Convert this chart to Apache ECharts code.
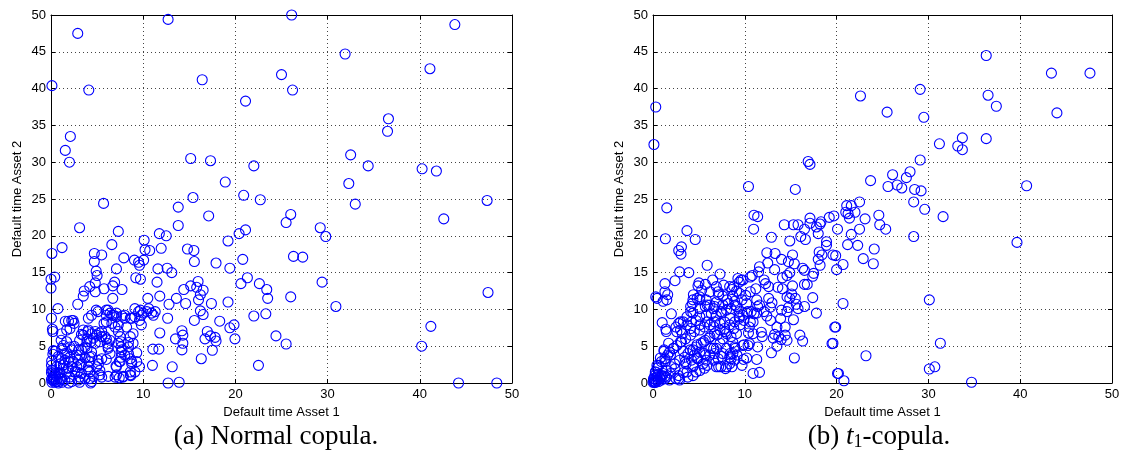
<!DOCTYPE html>
<html>
<head>
<meta charset="utf-8">
<script src="https://cdn.jsdelivr.net/npm/echarts@6/dist/echarts.min.js"></script>
<style>
  html, body { margin: 0; padding: 0; background: #fff; }
  #chart { width: 1131px; height: 473px; }
</style>
</head>
<body>
<div id="chart"></div>
<script>
// Simulated default times (years) of two assets under two copulas.
const axisMin = 0;
const axisMax = 50;
const xTickStep = 10;
const yTickStep = 5;
const xAxisTitle = 'Default time Asset 1';
const yAxisTitle = 'Default time Asset 2';

// (a) Normal copula: [asset 1 default time, asset 2 default time]
const normalCopula = [
  [0.1,40.4],[2.9,47.5],[4.1,39.8],[2.1,33.5],[1.55,31.6],[2.0,30.0],[12.7,49.4],[16.4,41.2],
  [15.15,30.5],[17.3,30.2],[18.9,27.3],[15.4,25.2],[21.1,38.3],[20.9,25.5],[22.0,29.5],[22.7,24.9],
  [26.1,50.0],[25.0,41.9],[26.2,39.8],[31.9,44.7],[32.5,31.0],[32.3,27.1],[34.4,29.5],[36.6,35.9],
  [36.5,34.2],[41.1,42.7],[43.8,48.7],[40.25,29.1],[41.8,28.8],[47.3,24.8],[33.0,24.3],
  [5.7,24.4],[13.8,23.9],[17.1,22.7],[13.8,21.4],[26.0,22.9],[25.5,21.8],[42.6,22.3],[3.1,21.1],
  [7.3,20.6],[11.75,20.3],[12.5,20.0],[20.4,20.3],[21.1,20.8],[29.2,21.1],[29.8,19.9],[19.2,19.3],
  [10.1,19.4],[0.1,17.6],[1.2,18.4],[4.7,17.6],[5.5,17.4],[7.9,17.0],[10.2,18.1],[10.7,18.0],
  [11.95,18.3],[14.8,18.2],[15.5,18.0],[15.55,16.5],[9.05,16.7],[9.5,16.4],[10.05,16.7],[4.7,16.5],
  [9.6,16.0],[17.9,16.3],[20.8,16.8],[26.3,17.2],[27.3,17.1],[19.4,15.6],[7.1,15.5],[11.6,15.5],
  [12.6,15.6],[13.1,15.0],[4.9,15.2],[5.0,14.6],[0.0,14.1],[0.4,14.4],[0.0,12.9],[9.2,14.3],
  [9.7,14.1],[11.5,13.7],[6.9,13.7],[6.7,13.2],[4.2,13.1],[4.8,13.6],[3.6,12.5],[3.5,11.8],
  [4.8,12.4],[5.75,12.8],[7.7,12.7],[6.7,11.5],[2.9,10.7],[4.9,9.9],[0.75,10.1],[15.95,13.8],
  [15.15,13.2],[15.8,13.0],[16.5,12.6],[14.4,12.7],[16.2,12.0],[16.0,11.3],[13.6,11.5],[11.8,11.8],
  [10.5,11.5],[12.8,10.7],[14.6,10.8],[17.4,10.8],[19.2,11.0],[20.6,13.5],[21.3,14.3],[22.6,13.5],
  [23.4,12.7],[23.5,11.5],[26.0,11.7],[29.4,13.7],[30.9,10.4],[47.4,12.3],[22.0,9.1],[23.3,9.4],
  [16.2,9.8],[16.5,9.3],[15.55,8.5],[18.3,8.4],[12.65,8.8],[19.4,7.5],[19.85,7.9],[41.2,7.7],
  [16.95,7.0],[17.3,6.4],[17.8,6.2],[16.7,6.0],[17.9,5.7],[14.2,7.1],[14.3,6.5],[13.5,6.0],
  [14.3,5.4],[14.2,4.5],[19.95,6.0],[24.4,6.4],[25.5,5.3],[40.2,5.0],[17.5,4.45],[16.3,3.3],
  [11.05,4.6],[11.7,4.6],[11.8,6.8],[11.0,2.4],[13.15,2.2],[22.5,2.4],[12.7,0.0],[13.9,0.1],
  [44.2,0.0],[48.35,0.0],[6.6,18.8],
  [9.1,10.1],[9.5,9.7],[9.8,9.2],[10.0,9.5],[10.4,9.7],[10.6,10.1],[10.9,9.5],[11.1,9.2],
  [11.3,9.7],[9.6,8.5],[9.8,7.9],[8.75,8.8],[8.0,8.8],[7.7,9.1],[7.1,9.5],[6.8,9.2],
  [6.4,9.5],[6.2,9.9],[6.0,9.2],[6.0,8.3],[5.75,8.1],[6.6,8.1],[6.95,7.6],[7.3,7.9],
  [7.3,7.0],[7.5,6.3],[7.6,5.6],[7.6,4.9],[7.6,4.2],[7.6,3.5],[7.4,2.9],[7.05,2.3],
  [6.95,0.8],[7.4,0.7],[7.8,0.8],[8.4,5.5],[8.4,4.9],[8.4,4.0],[8.6,3.3],[8.75,2.6],
  [8.6,1.5],[8.65,1.0],[9.3,4.1],[9.3,2.9],[9.6,2.2],[8.9,5.4],[8.6,6.3],[8.9,6.7],
  [8.2,7.6],[5.5,6.3],[5.25,6.8],[4.95,6.5],[4.4,6.7],[4.0,7.0],[3.5,7.2],[3.3,6.6],
  [3.9,6.0],[4.3,5.6],[4.8,5.4],[5.3,5.6],[6.0,6.0],[6.1,5.4],[6.2,4.7],[6.4,4.0],
  [6.0,3.2],[5.5,3.3],[5.15,2.6],[5.3,1.7],[5.5,0.8],[4.4,4.2],[4.2,3.5],[4.15,2.9],
  [4.05,2.2],[4.2,1.5],[4.2,0.6],[4.3,0.0],[3.7,4.9],[3.3,4.5],[3.1,3.8],[2.95,3.1],
  [3.3,2.6],[2.8,2.2],[2.85,1.5],[3.1,0.8],[3.1,0.1],[2.5,5.0],[2.25,4.5],[2.05,3.5],
  [1.9,2.9],[2.25,2.2],[1.7,1.5],[2.05,0.8],[1.9,0.0],[1.5,4.0],[1.15,3.3],[1.0,2.6],
  [1.35,2.0],[0.9,1.3],[1.15,0.6],[0.8,0.0],[0.25,0.8],[0.2,0.4],[0.4,0.1],[0.05,1.4],
  [0.2,1.7],[0.05,2.4],[0.2,3.9],[0.25,4.4],[0.15,7.3],[0.2,7.0],[0.05,8.8],[1.7,5.6],
  [1.35,5.1],[1.1,5.8],[1.7,7.2],[1.55,8.4],[2.25,8.5],[2.5,8.1],[1.15,6.7],
  [1.9,8.4],[2.4,8.5],[2.06,7.4],[4.05,8.8],[4.4,9.2],[5.1,9.7],[6.0,9.9],[6.6,9.2],
  [7.1,9.0],[8.0,9.2],[8.6,8.8],[9.1,9.0],[9.7,9.9],[4.05,7.2],[4.8,7.0],[5.5,7.0],
  [3.5,6.5],[3.1,5.8],[3.9,5.6],[4.6,6.1],[5.85,6.3],[6.4,5.8],[6.2,4.9],[7.3,5.4],
  [7.7,4.5],[8.0,3.8],[7.5,2.9],[7.1,2.2],[8.75,2.9],[9.1,1.5],[8.6,1.1],[7.85,0.9],
  [7.1,1.1],[6.2,0.9],[5.3,1.1],[4.6,0.9],[4.4,0.2],[3.7,0.6],[2.97,0.4],[2.24,0.2],
  [1.5,0.4],[0.8,0.2],[0.25,0.6],[0.43,1.3],[0.07,1.75],[0.98,1.5],[0.6,2.2],[1.34,2.45],
  [1.88,2.0],[2.6,1.5],[3.3,1.3],[4.05,1.75],[4.95,2.2],[3.15,2.45],[2.42,2.9],[1.52,3.1],
  [0.8,3.6],[1.7,4.0],[2.8,3.8],[3.7,3.4],[4.4,3.6],[5.1,3.1],[3.0,4.5],[3.9,4.7],
  [2.06,4.9],[1.16,4.7],[0.43,4.3],[0.07,3.0],
  [0.1,0.1],[0.3,0.3],[0.2,0.8],[0.6,0.2],[0.5,1.0],[1.0,0.5],[0.05,0.5],[0.8,1.2],
  [0.3,1.5],[1.2,0.1]
];

// (b) t1-copula: [asset 1 default time, asset 2 default time]
const tCopula = [
  [0.3,37.5],[0.1,32.4],[10.4,26.7],[15.5,26.3],[16.9,30.1],[17.1,29.7],[22.6,39.0],[25.5,36.8],
  [29.1,39.9],[29.5,36.1],[29.1,30.3],[23.7,27.5],[26.1,28.3],[25.6,26.7],[26.6,26.9],[27.1,26.5],
  [27.6,27.9],[28.0,28.7],[28.5,26.3],[29.2,26.1],[31.2,32.5],[33.2,32.2],[33.7,33.3],[33.7,31.7],
  [36.3,44.5],[36.5,39.1],[37.4,37.6],[36.3,33.2],[43.4,42.1],[47.6,42.1],[44.0,36.7],[40.7,26.8],
  [22.5,24.6],[28.4,24.6],[29.6,23.6],[31.6,22.6],[39.65,19.1],[28.4,19.9],[30.1,11.3],[31.3,5.4],
  [30.1,1.9],[30.7,2.2],[34.7,0.1],[23.2,3.7],[20.1,1.3],[20.8,0.3],[20.7,10.8],[19.9,7.6],
  [19.6,5.4],[15.4,3.4],[16.0,6.5],[16.3,5.7],[10.9,1.3],[11.6,1.45],[11.3,3.2],[12.9,4.1],
  [10.2,3.4],[9.8,5.1],[10.35,5.1],[10.4,6.8],[1.5,23.8],[1.35,19.6],[4.6,19.5],[3.7,20.7],
  [2.8,18.0],[3.1,18.5],[3.05,17.5],[2.4,13.9],[3.9,15.0],[5.9,16.0],[1.3,13.5],[1.6,12.0],
  [0.3,11.7],[1.1,11.1],[2.0,9.4],[1.0,8.2],[1.4,7.3],[1.45,7.0],[1.2,4.5],
  [21.1,24.1],[21.6,24.1],[21.0,23.2],[21.25,23.0],[21.4,22.4],[22.0,23.2],[23.1,22.3],[24.6,22.8],
  [24.7,21.5],[25.35,20.9],[22.5,20.9],[21.6,20.2],[21.2,18.8],[22.3,18.7],[24.1,18.2],[22.9,16.9],
  [24.0,16.2],[20.1,20.9],[19.7,22.7],[19.2,22.5],[20.0,15.4],[20.7,16.1],[19.6,17.4],[19.9,17.3],
  [11.0,22.8],[12.9,19.8],[14.3,21.5],[15.3,21.5],[15.8,21.5],[16.5,20.9],[17.1,22.4],[17.1,21.7],
  [17.8,21.2],[18.3,21.9],[18.2,21.6],[18.0,20.3],[16.1,19.9],[16.6,19.5],[14.9,19.3],[11.4,22.6],
  [10.96,20.9],[18.9,18.7],[18.9,19.2],[18.1,17.8],[18.0,16.8],[18.4,17.4],[18.2,16.0],[12.4,17.7],
  [13.3,17.6],[12.5,16.3],[14.0,16.8],[15.2,17.4],[14.75,16.5],[15.4,16.2],[11.6,15.8],[11.5,15.1],
  [13.25,15.4],[14.1,14.3],[14.6,14.6],[14.9,15.0],[16.3,15.6],[16.5,15.3],[16.5,13.4],[16.8,13.4],
  [17.4,14.5],[17.5,14.9],[17.4,11.6],[17.8,9.5],[10.6,14.4],[10.8,14.6],[9.6,14.0],[12.1,14.0],
  [12.25,13.5],[12.6,13.1],[11.2,12.8],[10.6,12.4],[10.1,11.9],[13.6,13.0],[14.1,12.8],[15.2,13.2],
  [15.1,12.1],[14.9,11.5],[14.6,11.7],[15.5,11.5],[15.6,10.7],[15.8,10.1],[16.5,10.4],[14.75,10.25],
  [12.6,11.5],[12.96,10.9],[12.8,10.3],[12.1,9.7],[12.4,9.1],[12.8,8.5],[11.4,10.4],[11.0,9.4],
  [10.3,9.7],[9.4,9.0],[9.9,8.5],[14.0,9.9],[13.9,8.75],[14.4,7.6],[13.5,7.6],[14.6,9.7],
  [15.3,8.6],[13.25,6.6],[13.1,6.1],[11.8,6.9],[11.9,6.3],[10.6,8.3],[10.9,6.7],[10.5,5.35],
  [11.4,4.9],[14.6,5.8],[14.4,6.5],[13.7,6.3],[13.96,5.9],[13.5,5.0],[9.86,3.2],[19.5,5.35],
  [19.8,7.6],[20.2,1.3],
  [2.9,15.1],[4.1,10.4],[4.3,10.8],[4.35,11.3],[4.8,11.5],[5.1,11.7],[4.9,13.2],[5.0,13.6],
  [5.3,12.6],[5.7,13.4],[5.8,11.3],[6.5,14.0],[6.9,13.1],[7.1,12.4],[7.3,14.8],[7.7,13.3],
  [7.6,11.8],[8.35,13.1],[8.6,12.7],[8.8,13.1],[9.1,12.5],[9.25,14.2],[9.4,13.7],[9.8,14.0],
  [9.4,12.2],[8.7,11.8],[8.9,11.1],[8.2,10.8],[7.6,10.6],[6.9,11.0],[6.7,10.4],[6.2,10.6],
  [5.7,10.4],[5.1,10.1],[4.35,9.5],[3.7,9.0],[3.3,8.3],[2.8,8.1],[2.5,7.6],[3.0,7.2],
  [3.7,7.9],[4.2,8.3],[4.7,8.5],[5.1,9.0],[5.8,9.2],[6.35,9.4],[6.9,9.1],[7.4,9.7],
  [8.0,9.9],[8.5,10.1],[9.1,10.4],[9.4,9.7],[9.8,9.2],[10.2,9.5],[10.2,10.8],[10.7,9.7],
  [11.3,11.3],[11.6,10.6],[11.3,9.5],[10.9,8.3],[10.5,7.6],[9.4,8.8],[8.9,8.3],[8.35,7.9],
  [7.8,8.3],[7.3,8.1],[6.7,8.3],[6.2,7.9],[5.6,7.6],[5.1,7.2],[4.5,7.0],[4.1,6.5],
  [3.55,6.0],[3.1,5.6],[2.6,5.1],[2.2,4.7],[1.8,4.2],[1.6,3.8],[1.3,3.3],[0.9,2.9],
  [0.65,2.4],[0.45,2.0],[0.3,1.5],[0.2,1.0],[0.1,0.6],[0.0,0.1],[0.35,0.35],[0.7,0.8],
  [1.1,1.3],[1.45,1.7],[2.0,2.2],[2.35,2.6],[2.9,3.1],[3.45,3.5],[3.8,4.0],[4.35,4.5],
  [4.7,4.9],[5.25,5.4],[5.7,5.8],[6.2,6.3],[6.7,6.7],[7.3,7.2],[7.8,7.4],[8.0,6.7],
  [7.6,6.0],[7.3,5.4],[6.9,4.7],[6.7,4.0],[7.1,3.3],[6.9,2.2],[7.4,2.2],[8.0,2.2],
  [8.35,2.6],[8.5,3.3],[8.7,4.0],[8.9,4.9],[8.7,5.5],[8.5,6.3],[9.1,6.7],[8.9,3.1],
  [8.35,3.5],[8.0,4.7],[7.6,4.0],[6.3,4.7],[6.2,3.8],[5.8,3.1],[5.45,2.6],[5.6,2.0],
  [4.7,1.5],[4.35,1.0],[3.8,0.8],[3.3,1.4],[2.8,1.0],[2.5,0.6],[1.8,0.4],[1.45,0.8],
  [0.9,0.4],[2.9,0.4],[3.6,2.6],[4.2,3.1],[4.5,3.8],[5.1,4.2],[5.6,4.0],[4.9,3.3],
  [4.35,2.2],
  [0.44,11.5],[1.5,11.3],[1.3,12.4],[4.1,9.7],[3.0,8.3],[2.6,6.96],[1.7,5.4],[1.2,4.3],
  [0.8,3.4],[0.43,2.4],[0.25,1.5],[0.07,0.6],[0.6,0.2],[1.34,0.6],[1.9,1.3],[2.4,1.95],
  [2.8,0.6],[3.7,1.5],[4.4,2.4],[5.1,1.7],[5.9,2.4],[6.6,3.1],[7.15,2.2],[7.9,1.95],
  [8.6,2.2],[7.5,3.6],[8.4,4.0],[8.95,4.7],[6.6,4.7],[5.7,3.8],[4.8,3.4],[3.5,2.9],
  [3.3,4.3],[4.05,4.5],[4.8,5.2],[5.5,5.6],[6.1,6.1],[6.97,6.5],[7.9,6.97],[8.8,7.4],
  [9.5,7.9],[9.9,5.2],[9.15,3.8],[9.7,2.4],[8.4,8.8],[7.5,9.5],[6.6,10.1],[5.9,10.6],
  [5.1,11.3],[4.4,12.0],[6.2,12.4],[7.15,12.0],[8.05,11.3],[8.95,10.6],[9.7,11.3],[4.1,7.4],
  [5.1,7.9],[5.9,8.3],[6.6,7.65],[3.0,5.6],[2.25,4.7],[1.9,3.8],[3.2,6.7],[1.34,2.9],
  [0.2,0.2],[0.5,0.4],[0.8,0.6],[0.4,0.8],[1.0,1.0],[0.6,1.2],[1.3,0.9],[0.15,0.05],
  [0.3,0.1],[0.05,0.3]
];

const panels = [
  { data: normalCopula, left: 51, right: 619 },
  { data: tCopula, left: 653, right: 19 }
];

const baseFont = 'Liberation Sans, Arial, Helvetica, sans-serif';
const gridLine = { show: true, lineStyle: { color: '#444', width: 1, type: [1, 3] } };

const grids = [], xAxes = [], yAxes = [], series = [];
panels.forEach((p, i) => {
  grids.push({ left: p.left, right: p.right, top: 15, bottom: 90, show: false });
  // bottom axis with labels
  xAxes.push({
    gridIndex: i, type: 'value', min: axisMin, max: axisMax, interval: xTickStep,
    name: xAxisTitle, nameLocation: 'middle', nameGap: 21,
    nameTextStyle: { fontFamily: baseFont, fontSize: 13, color: '#000' },
    axisLine: { show: true, onZero: false, lineStyle: { color: '#000', width: 1 } },
    axisTick: { show: true, inside: true, length: 4, lineStyle: { color: '#000' } },
    axisLabel: { fontFamily: baseFont, fontSize: 13, color: '#000', margin: 5 },
    splitLine: gridLine
  });
  // top frame edge
  xAxes.push({
    gridIndex: i, type: 'value', position: 'top', min: axisMin, max: axisMax, interval: xTickStep,
    axisLine: { show: true, onZero: false, lineStyle: { color: '#000', width: 1 } },
    axisTick: { show: true, inside: true, length: 4, lineStyle: { color: '#000' } },
    axisLabel: { show: false }, splitLine: { show: false }
  });
  yAxes.push({
    gridIndex: i, type: 'value', min: axisMin, max: axisMax, interval: yTickStep,
    name: yAxisTitle, nameLocation: 'middle', nameGap: 27, nameRotate: 90,
    nameTextStyle: { fontFamily: baseFont, fontSize: 13, color: '#000' },
    axisLine: { show: true, onZero: false, lineStyle: { color: '#000', width: 1 } },
    axisTick: { show: true, inside: true, length: 4, lineStyle: { color: '#000' } },
    axisLabel: { fontFamily: baseFont, fontSize: 13, color: '#000', margin: 5 },
    splitLine: gridLine
  });
  // right frame edge
  yAxes.push({
    gridIndex: i, type: 'value', position: 'right', min: axisMin, max: axisMax, interval: yTickStep,
    axisLine: { show: true, onZero: false, lineStyle: { color: '#000', width: 1 } },
    axisTick: { show: true, inside: true, length: 4, lineStyle: { color: '#000' } },
    axisLabel: { show: false }, splitLine: { show: false }
  });
  series.push({
    type: 'scatter', xAxisIndex: i * 2, yAxisIndex: i * 2,
    data: p.data, symbol: 'circle', symbolSize: 10,
    itemStyle: { color: 'rgba(0,0,0,0)', borderColor: '#0000ff', borderWidth: 1.1, opacity: 1 },
    emphasis: { disabled: true }, silent: true, clip: false
  });
});

const captionFont = 'Liberation Serif, Times New Roman, serif';
const chart = echarts.init(document.getElementById('chart'), null, { renderer: 'canvas' });
chart.setOption({
  animation: false,
  backgroundColor: '#fff',
  grid: grids, xAxis: xAxes, yAxis: yAxes, series: series,
  graphic: [
    {
      type: 'text', x: 276, y: 437,
      style: { text: '(a) Normal copula.', font: '27px ' + captionFont, fill: '#000', align: 'center', verticalAlign: 'middle' }
    },
    {
      type: 'text', x: 879, y: 437,
      style: {
        text: '(b) {t|t}{s|1}-copula.', fill: '#000', align: 'center', verticalAlign: 'middle',
        font: '27px ' + captionFont,
        rich: {
          t: { fontFamily: captionFont, fontSize: 27, fontStyle: 'italic' },
          s: { fontFamily: captionFont, fontSize: 18, padding: [11, 0, 0, 0] }
        }
      }
    }
  ]
});
</script>
</body>
</html>
